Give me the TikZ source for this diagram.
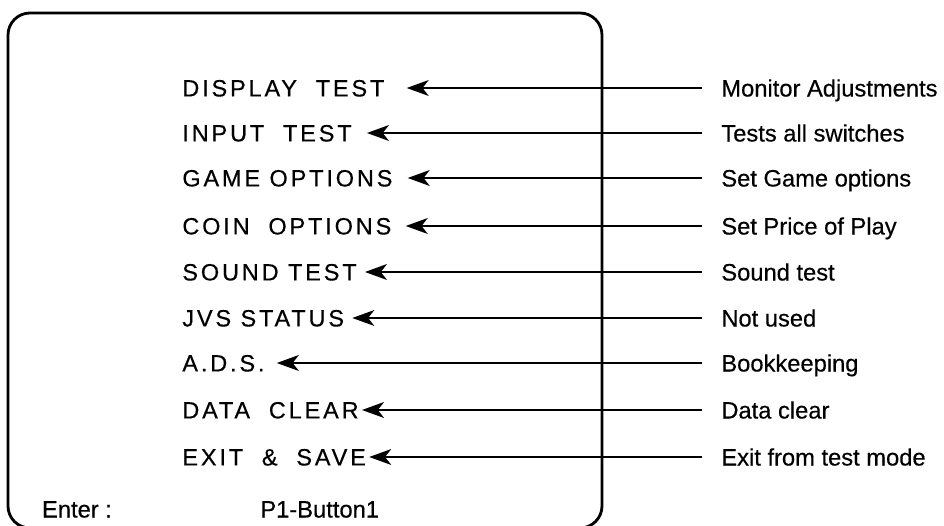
\documentclass[tikz,border=0pt]{standalone}
\usepackage{fontspec}
\setmainfont{Liberation Sans}[FakeBold=0.4]
\newfontfamily\menufont[LetterSpace=12,FakeBold=0.4]{Liberation Sans}
\usetikzlibrary{arrows.meta}

\tikzset{
  menu/.style={anchor=west,inner sep=0pt,text height=9.6pt,text depth=0pt,
    font=\menufont\fontsize{13.4}{16}\selectfont},
  desc/.style={anchor=west,inner xsep=0.38cm,inner ysep=0pt,text height=9.7pt,text depth=0pt,
    font=\fontsize{13.5}{16}\selectfont},
  foot/.style={anchor=west,inner sep=0pt,text height=9.7pt,text depth=0pt,
    font=\fontsize{13.5}{16}\selectfont},
  pointer/.style={-{Stealth[length=12.5pt,width=9pt,inset=3.5pt]},line width=1.2pt},
}

\begin{document}
\begin{tikzpicture}[x=0.02cm,y=-0.02cm]
\useasboundingbox (0,0) rectangle (944,526);
\draw[line width=1.6pt,rounded corners=0.44cm] (8,13) rectangle (602,528);

\node[menu] (display) at (182,88) {DISPLAY~~TEST};
\node[menu] (input) at (182,133) {INPUT~~TEST};
\node[menu] (game) at (182,178) {GAME OPTIONS};
\node[menu] (coin) at (182,226) {COIN~~OPTIONS};
\node[menu] (sound) at (182,272) {SOUND TEST};
\node[menu] (jvs) at (182,318) {JVS STATUS};
\node[menu] (ads) at (182,363) {A.D.S.};
\node[menu] (clear) at (182,410) {DATA~~CLEAR};
\node[menu] (exit) at (182,457) {EXIT~~\&~~SAVE};

\node[desc] (monitor) at (702,88) {Monitor Adjustments};
\node[desc] (switches) at (702,133) {Tests all switches};
\node[desc] (options) at (702,178) {Set Game options};
\node[desc] (price) at (702,226) {Set Price of Play};
\node[desc] (soundtest) at (702,272) {Sound test};
\node[desc] (unused) at (702,318) {Not used};
\node[desc] (books) at (702,363) {Bookkeeping};
\node[desc] (dataclear) at (702,410) {Data clear};
\node[desc] (testmode) at (702,457) {Exit from test mode};

\node[foot] (enter) at (41.7,509) {Enter :};
\node[foot] (button) at (260,509) {P1-Button1};

\draw[pointer,shorten >=12.5pt] (monitor.west) -- (display.east);
\draw[pointer,shorten >=8.5pt] (switches.west) -- (input.east);
\draw[pointer,shorten >=8.5pt] (options.west) -- (game.east);
\draw[pointer,shorten >=8pt] (price.west) -- (coin.east);
\draw[pointer,shorten >=4.5pt] (soundtest.west) -- (sound.east);
\draw[pointer,shorten >=4.5pt] (unused.west) -- (jvs.east);
\draw[pointer,shorten >=6.8pt] (books.west) -- (ads.east);
\draw[pointer,shorten >=1.7pt] (dataclear.west) -- (clear.east);
\draw[pointer,shorten >=1.7pt] (testmode.west) -- (exit.east);
\end{tikzpicture}
\end{document}
